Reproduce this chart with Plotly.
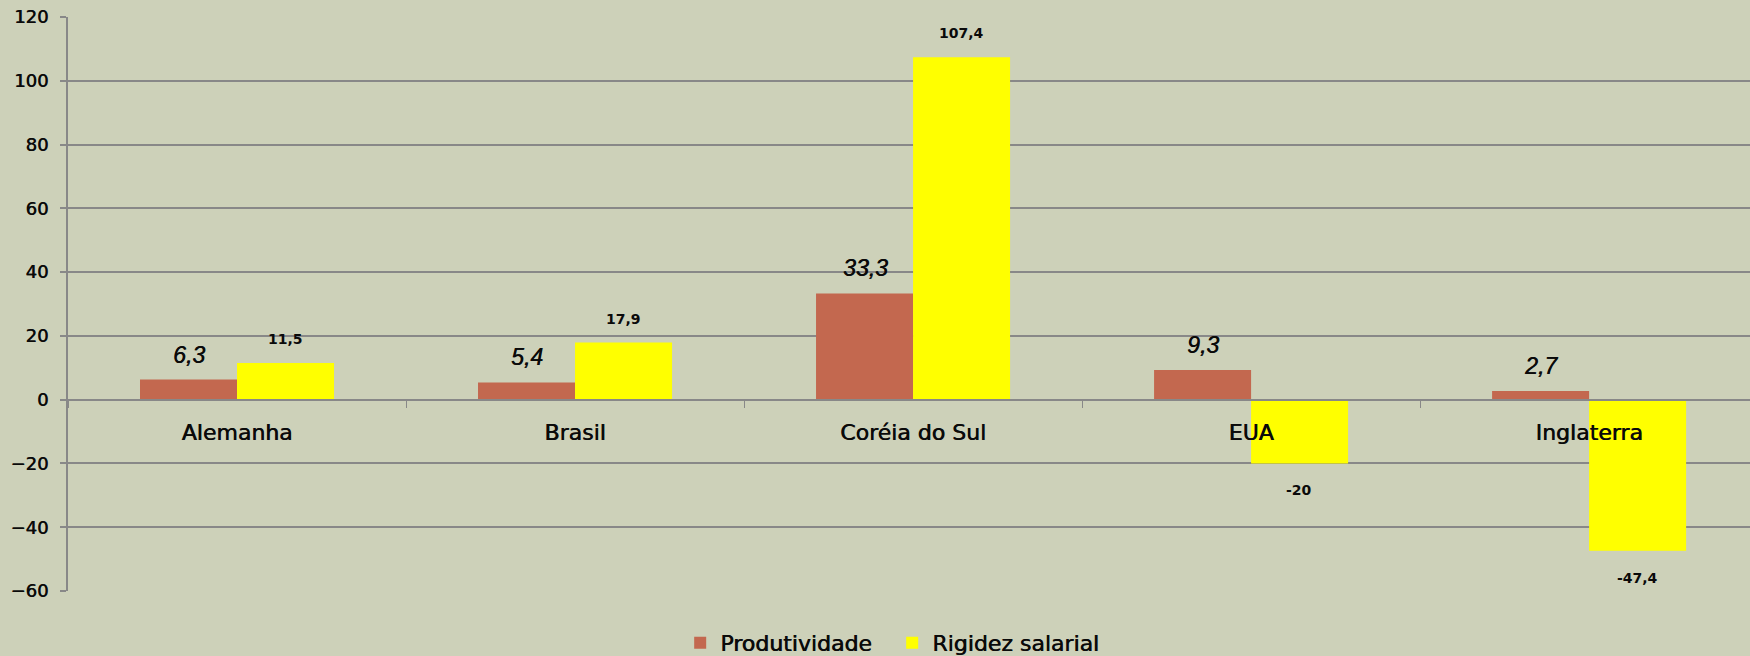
import plotly.graph_objects as go

categories = ["Alemanha", "Brasil", "Coréia do Sul", "EUA", "Inglaterra"]
produtividade = [6.3, 5.4, 33.3, 9.3, 2.7]
rigidez = [11.5, 17.9, 107.4, -20, -47.4]
y_ticks = [-60, -40, -20, 0, 20, 40, 60, 80, 100, 120]

BG = "#CDD1B9"
GRID = "#888888"
ORANGE = "#C3684F"
YELLOW = "#FFFF00"
TXT = "#0a0a0a"
SH = "0.6px 0 0 #0a0a0a"


def fmt(v):
    return ("%g" % v).replace(".", ",")


fig = go.Figure()
fig.add_trace(go.Bar(x=categories, y=produtividade, name="Produtividade",
                     marker=dict(color=ORANGE, line=dict(width=0))))
fig.add_trace(go.Bar(x=categories, y=rigidez, name="Rigidez salarial",
                     marker=dict(color=YELLOW, line=dict(width=0))))

annotations = []
for c, v in zip(categories, produtividade):
    annotations.append(dict(x=c, y=v, xref="x", yref="y", text="<i>" + fmt(v) + "</i>", showarrow=False,
                            xshift=-48, yshift=25 if v >= 0 else -25, yanchor="middle",
                            font=dict(family="Liberation Sans", size=23, color=TXT, shadow=SH)))
for c, v in zip(categories, rigidez):
    annotations.append(dict(x=c, y=v, xref="x", yref="y", text="<b>" + fmt(v) + "</b>", showarrow=False,
                            xshift=48, yshift=24 if v >= 0 else -27, yanchor="middle",
                            font=dict(family="DejaVu Sans", size=14, color=TXT)))

PLOT_H = 656 - 17 - 65
fig.update_layout(
    width=1750, height=656,
    paper_bgcolor=BG, plot_bgcolor=BG,
    margin=dict(l=68, r=0, t=17, b=65, autoexpand=False),
    barmode="group", bargap=0.426, bargroupgap=0,
    annotations=annotations,
    showlegend=True,
    legend=dict(orientation="h", x=0.49, xanchor="center",
                y=-(643 - 591) / PLOT_H, yanchor="middle",
                entrywidth=167, entrywidthmode="pixels",
                font=dict(family="DejaVu Sans", size=22, color=TXT, shadow=SH),
                bgcolor="rgba(0,0,0,0)"),
    xaxis=dict(
        type="category", range=[-0.5, 4.476],
        anchor="free", position=1/3,
        showline=True, linecolor=GRID, linewidth=2,
        ticks="outside", tickson="boundaries", ticklen=7, tickcolor=GRID, tickwidth=1,
        showgrid=False,
        tickfont=dict(family="DejaVu Sans", size=22, color=TXT, shadow=SH),
        ticklabelstandoff=13,
    ),
    yaxis=dict(
        range=[-60, 120], tickvals=y_ticks,
        showgrid=True, gridcolor=GRID, gridwidth=2,
        zeroline=False,
        showline=True, linecolor=GRID, linewidth=2,
        ticks="outside", ticklen=6, tickcolor=GRID, tickwidth=2,
        tickfont=dict(family="DejaVu Sans", size=18, color=TXT, shadow=SH),
        ticklabelstandoff=8,
    ),
)

fig.write_html("out.html", config={"displayModeBar": False},
               post_script="document.body.style.margin='0';document.body.style.background='%s';" % BG)
